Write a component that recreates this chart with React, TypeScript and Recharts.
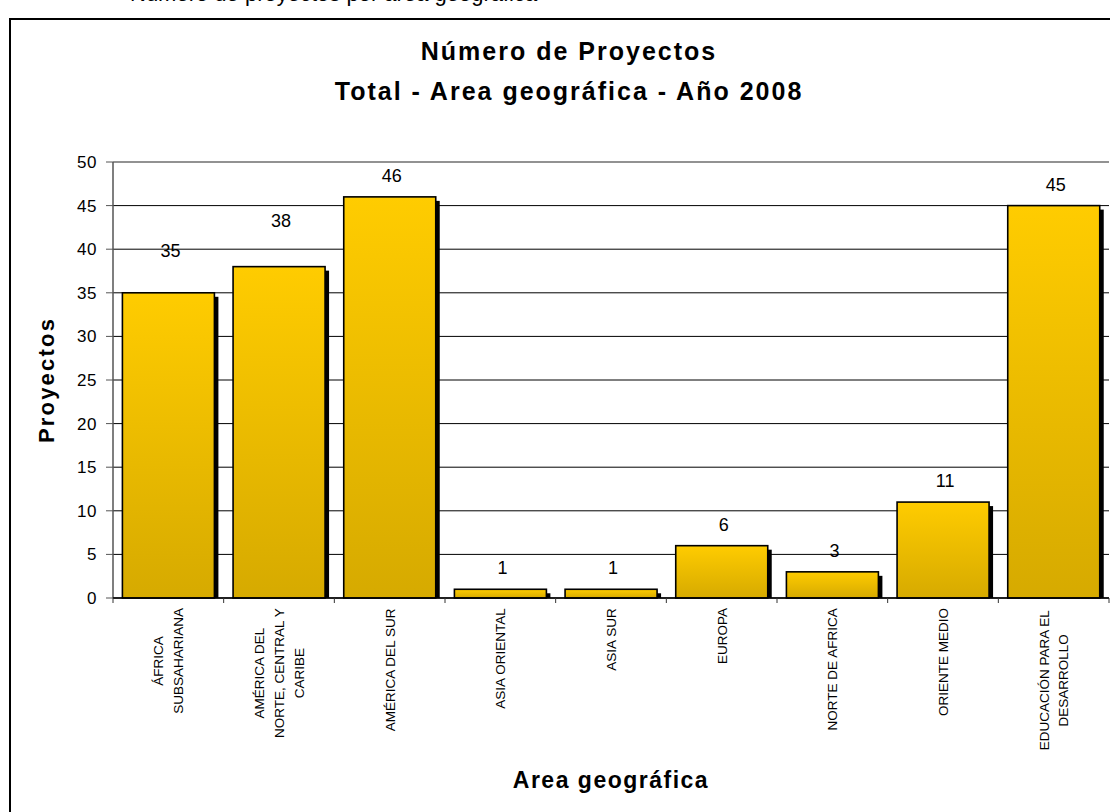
import React from "react";
import {
  BarChart,
  Bar,
  XAxis,
  YAxis,
  CartesianGrid,
  LabelList,
  ReferenceLine,
} from "recharts";

// ---- data ----
const categories = [
  "ÁFRICA SUBSAHARIANA",
  "AMÉRICA DEL NORTE, CENTRAL Y CARIBE",
  "AMÉRICA DEL SUR",
  "ASIA ORIENTAL",
  "ASIA SUR",
  "EUROPA",
  "NORTE DE AFRICA",
  "ORIENTE MEDIO",
  "EDUCACIÓN PARA EL DESARROLLO",
];
const projectCounts = [35, 38, 46, 1, 1, 6, 3, 11, 45];
const tickLabelLines = [
  ["ÁFRICA", "SUBSAHARIANA"],
  ["AMÉRICA DEL", "NORTE, CENTRAL Y", "CARIBE"],
  ["AMÉRICA DEL SUR"],
  ["ASIA ORIENTAL"],
  ["ASIA SUR"],
  ["EUROPA"],
  ["NORTE DE AFRICA"],
  ["ORIENTE MEDIO"],
  ["EDUCACIÓN  PARA EL", "DESARROLLO"],
];
const yTicks = [0, 5, 10, 15, 20, 25, 30, 35, 40, 45, 50];
const titleLines = ["Número de Proyectos", "Total - Area geográfica - Año 2008"];
const xAxisTitle = "Area geográfica";
const yAxisTitle = "Proyectos";
const captionAbove = "Número de proyectos por área geográfica";
// extra upward nudge (px) of a few data labels, as placed in the original
const labelNudge = [21, 25, 0, 0, 0, 0, 0, 0, 0];

const data = categories.map((name, i) => ({ name, value: projectCounts[i] }));

const FONT = "'Liberation Sans', Arial, sans-serif";

let canvasCtx: CanvasRenderingContext2D | null = null;
function measure(text: string, font: string): number {
  if (!canvasCtx) {
    const c = document.createElement("canvas");
    canvasCtx = c.getContext("2d");
  }
  if (!canvasCtx) return text.length * 8;
  canvasCtx.font = font;
  return canvasCtx.measureText(text).width;
}

const TICK_FS = 13.5;

const XTick = (props: any) => {
  const { x, y, payload } = props;
  const idx = payload.index ?? categories.indexOf(payload.value);
  const lines = tickLabelLines[idx] || [String(payload.value)];
  const half = payload.offset || 55.33;
  const font = `${TICK_FS}px 'Liberation Sans'`;
  const W = Math.max(...lines.map((l: string) => measure(l, font)));
  const lh = 20;
  const cap = TICK_FS * 0.716;
  const top = y + 10;
  const n = lines.length;
  return (
    <g>
      <line x1={x - half} x2={x - half} y1={y} y2={y + 5} stroke="#333" strokeWidth={1} />
      {idx === categories.length - 1 && (
        <line x1={x + half} x2={x + half} y1={y} y2={y + 5} stroke="#333" strokeWidth={1} />
      )}
      <g transform={`translate(${x},${top}) rotate(-90)`}>
        {lines.map((l: string, i: number) => (
          <text
            key={i}
            x={-W / 2}
            y={(i - (n - 1) / 2) * lh + cap / 2}
            textAnchor="middle"
            fontSize={TICK_FS}
            fontFamily={FONT}
            fill="#000"
          >
            {l}
          </text>
        ))}
      </g>
    </g>
  );
};

const BarShape = (props: any) => {
  const { x, y, width, height } = props;
  if (height <= 0) return null;
  return (
    <g>
      <rect x={x + 4} y={y + 4} width={width} height={Math.max(0, height - 4)} fill="#000" />
      <rect
        x={x}
        y={y}
        width={width}
        height={height}
        fill="url(#barGrad)"
        stroke="#000"
        strokeWidth={1.6}
      />
    </g>
  );
};

const ValueLabel = (props: any) => {
  const { x, y, width, value, index } = props;
  const lift = labelNudge[index] || 0;
  return (
    <text
      x={x + width / 2 + 2}
      y={y - 15 - lift}
      textAnchor="middle"
      fontSize={18}
      fontFamily={FONT}
      fill="#000"
    >
      {value}
    </text>
  );
};

export default function App() {
  return (
    <div
      style={{
        position: "relative",
        width: 1110,
        height: 812,
        overflow: "hidden",
        background: "#fff",
      }}
    >
      <style>{`html,body{margin:0;padding:0;overflow:hidden;background:#fff}`}</style>
      <div
        style={{
          position: "absolute",
          left: 130,
          top: -17,
          fontFamily: FONT,
          fontSize: 22,
          lineHeight: "22px",
          whiteSpace: "nowrap",
          color: "#000",
        }}
      >
        {captionAbove}
      </div>
      <div
        style={{
          position: "absolute",
          left: 9,
          top: 18,
          width: 1300,
          height: 1000,
          border: "2px solid #000",
          boxSizing: "border-box",
        }}
      />
      <div style={{ position: "absolute", left: 0, top: 0 }}>
        <BarChart
          width={1110}
          height={812}
          data={data}
          margin={{ top: 162, right: 1, left: 0, bottom: 64 }}
          barCategoryGap="8.5%"
        >
          <defs>
            <linearGradient id="barGrad" x1="0" y1="0" x2="0" y2="1">
              <stop offset="0%" stopColor="#FFCC00" />
              <stop offset="100%" stopColor="#D6AA00" />
            </linearGradient>
          </defs>
          <CartesianGrid vertical={false} stroke="#000" strokeWidth={1} />
          <ReferenceLine y={50} stroke="#999" strokeWidth={1.5} />
          <YAxis
            width={113}
            domain={[0, 50]}
            ticks={yTicks}
            interval={0}
            tickSize={7}
            tickMargin={9}
            axisLine={{ stroke: "#555", strokeWidth: 1.5 }}
            tickLine={{ stroke: "#555", strokeWidth: 1 }}
            tick={{ fontSize: 17, fill: "#000", fontFamily: FONT, letterSpacing: 0.5 }}
            label={{
              value: yAxisTitle,
              angle: -90,
              position: "insideLeft",
              offset: 0,
              content: (p: any) => {
                const vb = p.viewBox || {};
                const cy = vb.y + vb.height / 2;
                return (
                  <text
                    transform={`translate(54,${cy}) rotate(-90)`}
                    textAnchor="middle"
                    fontSize={22}
                    fontWeight="bold"
                    fontFamily={FONT}
                    letterSpacing={2.2}
                    fill="#000"
                  >
                    {yAxisTitle}
                  </text>
                );
              },
            }}
          />
          <XAxis
            dataKey="name"
            height={150}
            interval={0}
            tickLine={false}
            tickSize={0}
            tickMargin={0}
            axisLine={{ stroke: "#000", strokeWidth: 1.5 }}
            tick={<XTick />}
            label={{
              value: xAxisTitle,
              content: (p: any) => {
                const vb = p.viewBox || {};
                return (
                  <text
                    x={vb.x + vb.width / 2}
                    y={788}
                    textAnchor="middle"
                    fontSize={23}
                    fontWeight="bold"
                    fontFamily={FONT}
                    letterSpacing={1.5}
                    fill="#000"
                  >
                    {xAxisTitle}
                  </text>
                );
              },
            }}
          />
          <Bar dataKey="value" isAnimationActive={false} shape={<BarShape />}>
            <LabelList dataKey="value" content={<ValueLabel />} />
          </Bar>
          <text
            x={569}
            y={60}
            textAnchor="middle"
            fontSize={25}
            fontWeight="bold"
            fontFamily={FONT}
            letterSpacing={2}
            fill="#000"
          >
            {titleLines[0]}
          </text>
          <text
            x={569}
            y={100}
            textAnchor="middle"
            fontSize={25}
            fontWeight="bold"
            fontFamily={FONT}
            letterSpacing={2}
            fill="#000"
          >
            {titleLines[1]}
          </text>
        </BarChart>
      </div>
    </div>
  );
}
